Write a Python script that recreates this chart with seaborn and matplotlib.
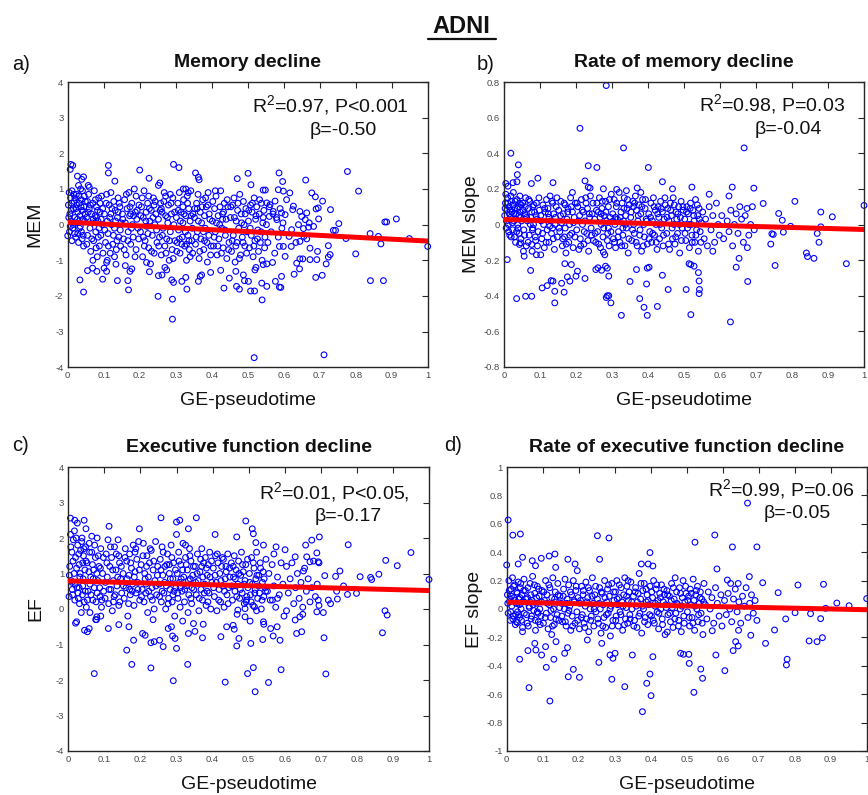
import matplotlib
matplotlib.use("Agg")
import matplotlib.pyplot as plt
import seaborn as sns
from matplotlib.lines import Line2D
from matplotlib.ticker import FixedLocator, FuncFormatter

# ---------------------------------------------------------------- data
x_ticks = [0, 0.1, 0.2, 0.3, 0.4, 0.5, 0.6, 0.7, 0.8, 0.9, 1]
mem_yticks = [-4, -3, -2, -1, 0, 1, 2, 3, 4]
mem_slope_yticks = [-0.8, -0.6, -0.4, -0.2, 0, 0.2, 0.4, 0.6, 0.8]
ef_yticks = [-4, -3, -2, -1, 0, 1, 2, 3, 4]
ef_slope_yticks = [-1, -0.8, -0.6, -0.4, -0.2, 0, 0.2, 0.4, 0.6, 0.8, 1]

panel_letters = ["a)", "b)", "c)", "d)"]
panel_titles = ["Memory decline", "Rate of memory decline",
                "Executive function decline", "Rate of executive function decline"]
y_labels = ["MEM", "MEM slope", "EF", "EF slope"]
x_label = "GE-pseudotime"
stats_r2 = ["R$^{2}$=0.97, P<0.001", "R$^{2}$=0.98, P=0.03",
            "R$^{2}$=0.01, P<0.05,", "R$^{2}$=0.99, P=0.06"]
stats_beta = ["\u03b2=-0.50", "\u03b2=-0.04", "\u03b2=-0.17", "\u03b2=-0.05"]

# fitted regression lines (value at pseudotime 0 and 1)
fit_x = [0, 1]
mem_fit = [0.07, -0.46]
mem_slope_fit = [0.028, -0.028]
ef_fit = [0.79, 0.52]
ef_slope_fit = [0.048, -0.005]

# scatter points (pseudotime, score)
mem_points = [
    (0.009,1.69),(0.014,1.66),(0.007,1.55),(0.0,-0.31),(0.034,-1.55),(0.044,-1.89),(0.055,-1.29),
    (0.027,1.36),(0.044,1.34),(0.039,1.27),(0.057,1.10),(0.113,1.66),(0.113,1.45),(0.131,1.22),
    (0.20,1.53),(0.226,1.30),(0.294,1.69),(0.309,1.60),(0.355,1.45),(0.363,1.33),(0.365,1.26),
    (0.256,1.17),(0.252,1.10),(0.272,0.80),(0.321,1.0),(0.471,1.29),(0.501,1.44),(0.509,1.12),
    (0.543,0.97),(0.549,0.97),(0.587,1.45),(0.597,1.21),(0.661,1.25),(0.777,1.49),(0.808,0.94),
    (0.913,0.16),(0.881,0.075),(0.886,0.075),(0.84,-0.25),(0.863,-0.33),(0.87,-0.54),(0.80,-0.82),
    (0.841,-1.57),(0.877,-1.57),(0.949,-0.39),(1.0,-0.61),(0.753,0.03),(0.738,-0.16),(0.744,-0.16),
    (0.773,-0.39),(0.73,0.42),(0.708,0.66),(0.688,0.78),(0.678,0.89),(0.696,0.47),(0.69,0.44),
    (0.671,0.05),(0.697,0.16),(0.724,-0.59),(0.694,-0.75),(0.729,-0.84),(0.724,-0.91),(0.718,-1.1),
    (0.692,-0.98),(0.673,-0.98),(0.707,-1.42),(0.689,-1.48),(0.712,-3.65),(0.518,-3.73),(0.291,-2.65),
    (0.291,-2.09),(0.251,-2.01),(0.331,-1.81),(0.317,-1.59),(0.328,-1.48),(0.294,-1.62),(0.289,-1.55),
    (0.262,-1.41),(0.275,-1.27),(0.252,-1.43),(0.227,-1.32),(0.219,-1.06),(0.173,-1.31),(0.169,-1.83),
    (0.167,-1.57),(0.138,-1.57),(0.178,-1.24),(0.108,-1.31),(0.101,-1.22),(0.097,-1.53),(0.081,-1.31),
    (0.069,-1.22),(0.134,-1.11),(0.108,-1.06),(0.368,-1.45),(0.372,-1.41),(0.363,-1.59),(0.397,-1.34),
    (0.425,-1.28),(0.434,-1.78),(0.449,-1.50),(0.469,-1.73),(0.477,-1.81),(0.467,-1.31),(0.488,-1.41),
    (0.491,-1.57),(0.502,-1.59),(0.508,-1.86),(0.519,-1.86),(0.523,-1.2),(0.52,-1.27),(0.54,-2.11),
    (0.539,-1.64),(0.553,-1.73),(0.543,-1.12),(0.553,-1.10),(0.569,-1.06),(0.577,-1.59),(0.588,-1.75),
    (0.592,-1.76),(0.594,-1.45),(0.604,-0.89),(0.629,-1.39),(0.636,-1.08),(0.644,-1.24),(0.645,-0.96),
    (0.653,-0.96),(0.621,-0.61),(0.599,-0.61),(0.588,-0.61),(0.615,-0.33),(0.622,-0.14),(0.627,0.52),
    (0.625,0.42),(0.617,0.89),(0.599,0.94),(0.608,0.70),(0.585,0.98),(0.576,0.66),(0.571,0.37),
    (0.562,0.56),(0.553,0.61),(0.560,0.23),(0.581,0.14),(0.594,0.33),(0.604,0.28),(0.645,0.37),
    (0.65,0.23),(0.664,0.33),(0.66,0.14),(0.641,0.0),(0.655,-0.11),(0.669,-0.07),(0.683,-0.05),
    (0.645,-0.47),(0.656,-0.33),(0.664,-0.40),(0.673,-0.66),(0.634,-0.5),
    (0.002,0.55),(0.004,0.9),(0.006,0.3),(0.008,0.75),(0.01,0.1),(0.012,0.95),(0.014,-0.1),(0.016,0.45),
    (0.018,0.65),(0.02,0.2),(0.022,-0.35),(0.024,0.85),(0.026,0.05),(0.028,0.35),(0.03,-0.5),(0.032,0.6),
    (0.034,0.25),(0.036,1.0),(0.038,-0.2),(0.04,0.4),(0.042,0.15),(0.044,-0.6),(0.046,0.8),(0.048,0.3),
    (0.005,-0.2),(0.015,0.0),(0.025,0.55),(0.035,-0.05),(0.045,0.5),(0.01,0.4),(0.02,0.75),(0.03,1.1),
    (0.04,-0.4),(0.012,-0.45),(0.028,-0.25),(0.038,0.7),
    (0.052,0.2),(0.055,-0.3),(0.058,0.85),(0.06,0.45),(0.062,-0.1),(0.064,-0.75),(0.066,0.3),(0.068,0.05),
    (0.07,0.6),(0.072,-0.45),(0.074,0.95),(0.076,0.25),(0.078,-0.2),(0.08,0.5),(0.082,-0.9),(0.084,0.1),
    (0.086,0.75),(0.088,-0.6),(0.09,0.35),(0.092,-0.3),(0.094,0.8),(0.096,0.0),(0.098,-0.8),(0.06,1.05),
    (0.07,-1.0),(0.08,0.2),(0.09,0.6),(0.055,0.65),(0.085,-0.35),
    (0.102,0.3),(0.105,-0.5),(0.108,0.85),(0.11,0.1),(0.112,-0.25),(0.115,0.55),(0.118,-0.8),(0.12,0.3),
    (0.122,0.0),(0.125,-0.55),(0.128,0.65),(0.13,-0.1),(0.132,0.4),(0.135,-0.7),(0.138,0.2),(0.14,0.75),
    (0.142,-0.35),(0.145,0.5),(0.148,0.05),(0.11,-1.0),(0.12,0.9),(0.13,-0.9),(0.14,0.35),(0.146,-0.15),
    (0.152,0.3),(0.155,-0.4),(0.158,0.7),(0.16,0.05),(0.162,-0.85),(0.165,0.45),(0.168,-0.2),(0.17,0.9),
    (0.172,0.25),(0.175,-0.55),(0.178,0.6),(0.18,0.0),(0.182,-0.35),(0.185,1.0),(0.188,0.35),(0.19,-0.7),
    (0.192,0.15),(0.195,-0.1),(0.198,0.55),(0.16,-1.15),(0.175,0.3),(0.19,0.8),
    (0.202,-0.2),(0.205,0.5),(0.208,-0.9),(0.21,0.2),(0.212,0.95),(0.215,-0.45),(0.218,0.35),(0.22,-0.05),
    (0.222,0.6),(0.225,-0.65),(0.228,0.1),(0.23,-1.1),(0.232,0.4),(0.235,-0.3),(0.238,0.75),(0.24,-0.8),
    (0.242,0.0),(0.245,0.3),(0.248,-0.5),(0.21,-0.35),(0.225,0.8),(0.24,0.55),
    (0.252,0.15),(0.255,-0.35),(0.258,0.6),(0.26,-0.85),(0.262,0.35),(0.265,-0.1),(0.268,0.9),(0.27,-0.6),
    (0.272,0.25),(0.275,-0.4),(0.278,0.05),(0.28,0.55),(0.282,-1.0),(0.285,-0.2),(0.288,0.3),(0.29,-0.7),
    (0.292,0.75),(0.295,0.0),(0.298,-0.45),(0.26,0.45),(0.27,-1.2),(0.285,0.85),
    (0.302,0.2),(0.304,-0.5),(0.306,0.6),(0.308,-0.15),(0.31,0.9),(0.312,-0.8),(0.315,0.35),(0.318,-0.35),
    (0.32,0.05),(0.322,0.7),(0.325,-0.6),(0.328,0.25),(0.33,-1.0),(0.332,0.8),(0.334,-0.3),(0.336,0.45),
    (0.338,-0.7),(0.34,0.1),(0.342,0.95),(0.345,-0.45),(0.348,0.3),(0.31,-0.4),(0.32,0.5),(0.33,-0.55),
    (0.335,0.9),(0.34,-0.9),(0.346,-0.1),(0.328,1.0),
    (0.352,0.2),(0.355,-0.55),(0.358,0.6),(0.36,-0.2),(0.362,0.85),(0.365,-0.95),(0.368,0.35),(0.37,-0.4),
    (0.372,0.05),(0.375,0.7),(0.378,-0.7),(0.38,0.25),(0.382,-0.1),(0.385,0.5),(0.388,-1.05),(0.39,0.9),
    (0.392,-0.3),(0.395,0.15),(0.398,-0.6),(0.36,0.45),(0.38,-0.45),(0.39,0.55),
    (0.402,0.1),(0.405,-0.6),(0.408,0.45),(0.41,-0.2),(0.412,0.8),(0.415,-0.85),(0.418,0.25),(0.42,-0.4),
    (0.422,0.0),(0.425,0.95),(0.428,-0.1),(0.43,0.3),(0.432,-0.65),(0.435,0.6),(0.438,-0.3),(0.44,0.15),
    (0.442,-0.95),(0.445,0.5),(0.448,-0.5),(0.41,0.95),(0.43,0.15),
    (0.452,0.2),(0.455,-0.75),(0.458,0.55),(0.46,-0.3),(0.462,0.75),(0.465,-1.05),(0.468,0.1),(0.47,-0.5),
    (0.472,0.4),(0.475,-0.1),(0.478,0.85),(0.48,-0.85),(0.482,0.3),(0.485,-0.35),(0.488,0.65),(0.49,0.0),
    (0.492,-0.6),(0.495,0.45),(0.498,-0.2),
    (0.502,0.1),(0.505,-0.65),(0.508,0.55),(0.51,-0.3),(0.512,0.35),(0.515,-0.9),(0.518,0.75),(0.52,-0.45),
    (0.522,0.15),(0.525,0.5),(0.528,-0.15),(0.53,-0.75),(0.532,0.3),(0.535,-0.5),(0.538,0.6),(0.54,-1.0),
    (0.542,0.05),(0.545,0.4),(0.548,-0.35),
    (0.552,0.0),(0.556,-0.5),(0.56,0.5),(0.565,-0.2),(0.57,0.3),(0.575,-0.8),(0.58,0.2),(0.585,-0.35),
    (0.59,0.45),(0.595,-0.1),(0.598,0.05),
]
mem_points_dense = [
    (0.003,0.2),(0.007,-0.05),(0.011,0.6),(0.017,0.85),(0.019,-0.25),(0.023,0.45),(0.027,0.15),(0.031,0.8),
    (0.033,-0.1),(0.037,0.5),(0.041,0.95),(0.043,-0.3),(0.047,0.1),(0.049,0.65),(0.053,-0.55),(0.057,0.35),
    (0.063,0.55),(0.067,-0.4),(0.071,0.15),(0.077,0.7),(0.079,-0.65),(0.083,0.4),(0.087,-0.1),(0.093,0.15),
    (0.097,0.45),(0.103,-0.15),(0.107,0.6),(0.113,-0.6),(0.117,0.2),(0.123,0.45),(0.127,-0.3),(0.133,0.1),
    (0.137,-0.45),(0.143,0.6),(0.147,-0.6),(0.153,0.15),(0.157,-0.7),(0.163,0.85),(0.167,-0.45),(0.173,0.5),
    (0.177,-0.1),(0.183,0.25),(0.187,-0.9),(0.193,0.4),(0.197,-0.4),(0.203,0.25),(0.207,0.75),(0.213,-0.6),
    (0.217,0.1),(0.223,-0.25),(0.227,0.45),(0.233,-0.75),(0.237,0.2),(0.243,0.65),(0.247,-0.15),(0.253,-0.6),
    (0.257,0.4),(0.263,-0.3),(0.267,0.65),(0.273,-0.8),(0.277,0.2),(0.283,-0.45),(0.287,0.6),(0.293,-0.95),
    (0.297,0.35),(0.303,-0.75),(0.307,0.4),(0.313,0.1),(0.317,-0.55),(0.323,0.3),(0.327,-0.2),(0.333,0.6),
    (0.337,-0.45),(0.343,0.25),(0.347,-0.8),(0.353,0.45),(0.357,-0.35),(0.363,0.1),(0.367,-0.75),(0.373,0.5),
    (0.377,-0.2),(0.383,0.75),(0.387,-0.5),(0.393,0.3),(0.397,-0.85),(0.403,0.65),(0.407,-0.35),(0.413,0.05),
    (0.417,-0.6),(0.423,0.5),(0.427,-0.8),(0.433,0.35),(0.437,-0.15),(0.443,0.7),(0.447,-0.7),(0.453,0.5),
    (0.457,-0.45),(0.463,0.2),(0.467,-0.6),(0.473,0.6),(0.477,-0.95),(0.483,0.05),(0.487,-0.5),(0.493,0.3),
    (0.497,-0.8),(0.503,0.4),(0.507,-0.1),(0.513,0.6),(0.517,-0.6),(0.523,0.25),(0.527,-0.4),(0.533,0.7),
    (0.537,-0.2),(0.543,0.2),(0.547,-0.65),
]

mem_slope_points = [
    (0.284,0.78),(0.211,0.54),(0.019,0.40),(0.332,0.43),(0.667,0.43),(0.040,0.335),(0.037,0.28),
    (0.094,0.26),(0.234,0.33),(0.258,0.32),(0.401,0.32),(0.440,0.24),(0.005,0.23),(0.036,0.24),
    (0.025,0.235),(0.011,0.215),(0.076,0.23),(0.136,0.235),(0.225,0.245),(0.234,0.21),(0.239,0.205),
    (0.276,0.20),(0.313,0.197),(0.37,0.205),(0.468,0.20),(0.522,0.21),(0.634,0.21),(0.625,0.16),
    (0.694,0.204),(0.808,0.13),(1.0,0.107),(0.72,0.118),(0.88,0.07),(0.912,0.043),(0.763,0.062),
    (0.773,0.024),(0.796,-0.01),(0.88,-0.013),(0.87,-0.05),(0.875,-0.1),(0.84,-0.16),(0.843,-0.18),
    (0.861,-0.19),(0.951,-0.22),(0.776,-0.043),(0.744,-0.052),(0.748,-0.056),(0.741,-0.11),
    (0.753,-0.23),(0.676,-0.13),(0.677,-0.32),(0.645,-0.24),(0.653,-0.19),(0.629,-0.547),(0.519,-0.506),
    (0.506,-0.365),(0.514,-0.22),(0.519,-0.225),(0.528,-0.234),(0.54,-0.27),(0.542,-0.317),
    (0.543,-0.365),(0.542,-0.388),(0.456,-0.365),(0.44,-0.285),(0.426,-0.46),(0.398,-0.245),
    (0.403,-0.24),(0.396,-0.334),(0.389,-0.465),(0.398,-0.51),(0.377,-0.416),(0.368,-0.253),
    (0.35,-0.32),(0.326,-0.51),(0.297,-0.44),(0.287,-0.40),(0.291,-0.40),(0.284,-0.41),(0.291,-0.29),
    (0.287,-0.245),(0.282,-0.234),(0.271,-0.257),(0.255,-0.253),(0.261,-0.243),(0.276,-0.155),
    (0.225,-0.303),(0.204,-0.262),(0.2,-0.29),(0.183,-0.318),(0.176,-0.294),(0.169,-0.22),(0.187,-0.225),
    (0.16,-0.33),(0.167,-0.38),(0.141,-0.375),(0.131,-0.315),(0.136,-0.318),(0.12,-0.343),(0.106,-0.356),
    (0.141,-0.44),(0.074,-0.258),(0.077,-0.403),(0.06,-0.403),(0.035,-0.416),(0.009,-0.197),
    (0.054,-0.15),(0.056,-0.178),(0.046,-0.103),(0.043,-0.112),(0.02,-0.07),(0.102,-0.17),(0.077,-0.112),
    (0.002,0.05),(0.004,0.12),(0.006,-0.02),(0.008,0.08),(0.01,0.15),(0.012,0.0),(0.014,0.1),(0.016,-0.06),
    (0.018,0.04),(0.02,0.13),(0.022,0.07),(0.024,-0.03),(0.026,0.18),(0.028,0.02),(0.03,0.09),(0.032,-0.1),
    (0.034,0.06),(0.036,0.14),(0.038,0.0),(0.04,0.1),(0.042,-0.05),(0.044,0.16),(0.046,0.04),(0.048,0.11),
    (0.005,0.17),(0.015,0.06),(0.025,0.11),(0.035,-0.04),(0.045,0.07),
    (0.052,0.12),(0.055,-0.03),(0.058,0.06),(0.06,0.15),(0.062,-0.12),(0.065,0.02),(0.068,0.09),(0.07,-0.06),
    (0.072,0.13),(0.075,0.04),(0.078,-0.15),(0.08,0.1),(0.082,0.0),(0.085,0.07),(0.088,-0.09),(0.09,0.12),
    (0.092,0.03),(0.095,-0.04),(0.098,0.08),(0.06,0.05),(0.08,-0.02),(0.09,-0.17),
    (0.102,0.05),(0.105,-0.08),(0.108,0.11),(0.11,0.0),(0.112,-0.13),(0.115,0.07),(0.118,0.14),(0.12,-0.03),
    (0.122,0.09),(0.125,-0.1),(0.128,0.16),(0.13,0.02),(0.132,-0.05),(0.135,0.12),(0.138,0.06),(0.14,-0.14),
    (0.142,0.0),(0.145,0.1),(0.148,-0.07),(0.125,0.04),(0.135,-0.02),
    (0.152,0.08),(0.155,-0.04),(0.158,0.13),(0.16,0.01),(0.162,-0.12),(0.165,0.06),(0.168,-0.07),(0.17,0.11),
    (0.172,-0.16),(0.175,0.03),(0.178,0.09),(0.18,-0.1),(0.182,0.0),(0.185,0.15),(0.188,-0.05),(0.19,0.07),
    (0.192,-0.13),(0.195,0.04),(0.198,0.12),(0.17,-0.02),(0.19,0.18),
    (0.202,-0.03),(0.205,0.1),(0.208,-0.14),(0.21,0.05),(0.212,-0.08),(0.215,0.14),(0.218,0.0),(0.22,0.07),
    (0.222,-0.11),(0.225,0.02),(0.228,0.12),(0.23,-0.05),(0.232,0.09),(0.235,-0.15),(0.238,0.04),(0.24,0.16),
    (0.242,-0.02),(0.245,0.06),(0.248,-0.09),
    (0.252,0.03),(0.255,-0.1),(0.258,0.12),(0.26,-0.04),(0.262,0.07),(0.265,0.15),(0.268,-0.13),(0.27,0.0),
    (0.272,0.09),(0.275,-0.07),(0.278,0.05),(0.28,-0.17),(0.282,0.13),(0.285,0.02),(0.288,-0.05),(0.29,0.1),
    (0.292,-0.12),(0.295,0.04),(0.298,0.17),(0.27,0.06),(0.29,-0.02),
    (0.302,0.06),(0.304,-0.08),(0.306,0.14),(0.308,0.0),(0.31,-0.13),(0.312,0.1),(0.315,0.03),(0.318,-0.04),
    (0.32,0.18),(0.322,-0.1),(0.325,0.07),(0.328,0.12),(0.33,-0.06),(0.332,0.02),(0.334,0.15),(0.336,-0.12),
    (0.338,0.05),(0.34,-0.02),(0.342,0.09),(0.345,-0.16),(0.348,0.11),(0.31,0.04),(0.33,-0.02),(0.34,0.19),
    (0.352,0.04),(0.355,-0.09),(0.358,0.13),(0.36,0.0),(0.362,-0.05),(0.365,0.16),(0.368,0.08),(0.37,-0.12),
    (0.372,0.02),(0.375,0.11),(0.378,-0.03),(0.38,0.06),(0.382,-0.15),(0.385,0.14),(0.388,0.0),(0.39,-0.07),
    (0.392,0.09),(0.395,0.03),(0.398,-0.11),(0.36,0.1),(0.38,0.18),
    (0.402,0.06),(0.405,-0.04),(0.408,0.12),(0.41,-0.1),(0.412,0.02),(0.415,0.15),(0.418,-0.06),(0.42,0.08),
    (0.422,0.0),(0.425,-0.14),(0.428,0.1),(0.43,0.04),(0.432,-0.08),(0.435,0.13),(0.438,-0.02),(0.44,0.07),
    (0.442,-0.12),(0.445,0.03),(0.448,0.11),
    (0.452,-0.05),(0.455,0.09),(0.458,0.02),(0.46,-0.14),(0.462,0.12),(0.465,0.05),(0.468,-0.08),(0.47,0.15),
    (0.472,0.0),(0.475,-0.11),(0.478,0.07),(0.48,0.03),(0.482,-0.05),(0.485,0.1),(0.488,-0.16),(0.49,0.04),
    (0.492,0.13),(0.495,-0.02),(0.498,0.08),
    (0.502,0.03),(0.505,-0.09),(0.508,0.1),(0.51,-0.02),(0.512,0.06),(0.515,-0.13),(0.518,0.12),(0.52,0.0),
    (0.522,-0.06),(0.525,0.08),(0.528,0.02),(0.53,-0.1),(0.532,0.14),(0.535,-0.03),(0.538,0.05),(0.54,-0.15),
    (0.542,0.09),(0.545,-0.04),(0.548,0.01),
    (0.552,0.07),(0.556,-0.08),(0.56,0.03),(0.565,-0.12),(0.57,0.1),(0.575,-0.03),(0.58,0.05),(0.585,-0.1),
    (0.59,0.12),(0.595,0.0),(0.598,-0.06),(0.57,0.17),(0.58,-0.15),
    (0.605,0.05),(0.61,-0.08),(0.62,0.02),(0.625,-0.04),(0.63,0.08),(0.635,-0.12),(0.64,0.0),(0.645,0.06),
    (0.65,-0.05),(0.655,0.1),(0.66,0.03),(0.665,-0.1),(0.67,0.05),(0.675,0.09),(0.68,-0.06),(0.685,0.0),
    (0.69,0.1),(0.695,-0.03),
]
mem_slope_points_dense = [
    (0.003,0.09),(0.007,0.02),(0.011,0.12),(0.013,-0.04),(0.017,0.08),(0.019,0.16),(0.023,0.01),(0.027,0.06),
    (0.029,-0.07),(0.031,0.13),(0.033,0.03),(0.037,0.09),(0.039,-0.02),(0.041,0.05),(0.043,0.12),(0.047,-0.08),
    (0.049,0.02),(0.053,0.08),(0.057,-0.06),(0.059,0.1),(0.063,0.04),(0.067,-0.1),(0.069,0.14),(0.073,0.0),
    (0.077,0.07),(0.079,-0.03),(0.083,0.11),(0.087,-0.07),(0.089,0.05),(0.093,-0.12),(0.097,0.15),(0.103,0.02),
    (0.107,-0.05),(0.113,0.09),(0.117,-0.1),(0.123,0.06),(0.127,-0.01),(0.133,0.13),(0.137,-0.08),(0.143,0.04),
    (0.147,0.15),(0.153,-0.02),(0.157,0.05),(0.163,-0.08),(0.167,0.12),(0.173,-0.11),(0.177,0.07),(0.183,-0.06),
    (0.187,0.1),(0.193,0.01),(0.197,-0.07),(0.203,0.12),(0.207,0.02),(0.213,-0.12),(0.217,0.08),(0.223,-0.04),
    (0.227,0.15),(0.233,-0.09),(0.237,0.06),(0.243,-0.06),(0.247,0.12),(0.253,-0.05),(0.257,0.08),(0.263,-0.11),
    (0.267,0.04),(0.273,0.13),(0.277,-0.02),(0.283,0.07),(0.287,-0.09),(0.293,0.14),(0.297,-0.04),(0.303,0.02),
    (0.307,-0.1),(0.313,0.12),(0.317,-0.07),(0.323,0.04),(0.327,-0.12),(0.333,0.09),(0.337,0.0),(0.343,0.14),
    (0.347,-0.08),(0.353,0.07),(0.357,-0.03),(0.363,0.12),(0.367,-0.1),(0.373,0.05),(0.377,-0.06),(0.383,0.1),
    (0.387,-0.12),(0.393,0.14),(0.397,0.02),(0.403,-0.08),(0.407,0.04),(0.413,-0.05),(0.417,0.1),(0.423,-0.1),
    (0.427,0.06),(0.433,0.0),(0.437,0.09),(0.443,-0.06),(0.447,0.15),(0.453,0.04),(0.457,-0.11),(0.463,0.08),
    (0.467,-0.02),(0.473,0.11),(0.477,-0.07),(0.483,0.06),(0.487,0.0),(0.493,-0.09),(0.497,0.1),(0.503,-0.05),
    (0.507,0.07),(0.513,0.0),(0.517,0.09),(0.523,-0.1),(0.527,0.05),(0.533,-0.06),(0.537,0.11),(0.543,0.03),
    (0.547,-0.1),
]

ef_points = [
    (0.006,2.56),(0.018,2.5),(0.025,2.42),(0.044,2.5),(0.049,2.26),(0.257,2.57),(0.3,2.45),(0.309,2.5),
    (0.355,2.57),(0.333,2.26),(0.113,2.33),(0.197,2.26),(0.492,2.48),(0.51,2.26),(0.513,2.12),(0.3,2.1),
    (0.407,2.1),(0.467,2.03),(0.52,1.87),(0.541,1.8),(0.576,1.75),(0.601,1.67),(0.658,1.8),(0.675,1.94),
    (0.696,2.03),(0.689,1.58),(0.661,1.47),(0.629,1.47),(0.693,1.33),(0.695,1.3),(0.67,1.33),(0.652,1.07),
    (0.711,0.94),(0.753,1.07),(0.741,0.92),(0.776,1.81),(0.809,0.91),(0.838,0.89),(0.841,0.83),(0.861,0.98),
    (0.88,1.37),(0.912,1.22),(0.95,1.59),(1.0,0.83),(0.763,0.65),(0.799,0.44),(0.774,0.41),(0.744,0.5),
    (0.721,0.25),(0.727,0.15),(0.746,0.28),(0.693,0.25),(0.689,-0.08),(0.707,-0.1),(0.878,-0.05),
    (0.884,-0.17),(0.871,-0.67),(0.709,-0.81),(0.714,-1.83),(0.59,-1.71),(0.555,-2.07),(0.518,-2.33),
    (0.513,-1.65),(0.497,-1.82),(0.435,-2.06),(0.291,-2.02),(0.331,-1.56),(0.229,-1.66),(0.176,-1.56),
    (0.162,-1.16),(0.072,-1.82),(0.181,-0.88),(0.111,-0.55),(0.14,-0.44),(0.168,-0.5),(0.023,-0.36),
    (0.053,-0.64),(0.058,-0.55),(0.079,-0.22),(0.076,-0.3),(0.206,-0.69),(0.213,-0.74),(0.229,-0.95),
    (0.238,-0.92),(0.253,-0.88),(0.263,-1.06),(0.277,-0.55),(0.289,-0.76),(0.296,-0.83),(0.3,-1.11),
    (0.286,-0.5),(0.317,-0.34),(0.333,-0.69),(0.351,-0.63),(0.347,-0.41),(0.372,-0.81),(0.374,-0.43),
    (0.423,-0.78),(0.439,-0.5),(0.457,-0.46),(0.46,-0.57),(0.467,-1.04),(0.473,-0.83),(0.506,-0.97),
    (0.504,-0.34),(0.541,-0.36),(0.542,-0.43),(0.539,-0.86),(0.561,-0.55),(0.579,-0.5),(0.568,-0.76),
    (0.587,-0.88),(0.605,-0.05),(0.629,-0.31),(0.633,-0.69),(0.647,-0.64),(0.65,-0.15),(0.642,-0.22),
    (0.522,-0.05),(0.516,0.06),(0.49,0.01),(0.49,-0.22),(0.47,-0.03),(0.494,0.25),(0.566,0.25),
    (0.002,0.35),(0.004,1.2),(0.006,2.1),(0.008,0.8),(0.01,1.6),(0.012,0.4),(0.014,1.95),(0.016,1.0),
    (0.018,0.25),(0.02,1.45),(0.022,2.0),(0.024,0.6),(0.026,1.8),(0.028,0.3),(0.03,1.25),(0.032,0.9),
    (0.034,1.65),(0.036,-0.1),(0.038,2.0),(0.04,0.65),(0.042,1.5),(0.044,0.2),(0.046,1.1),(0.048,1.75),
    (0.01,0.75),(0.02,-0.4),(0.03,0.6),(0.04,1.3),(0.045,-0.6),(0.05,0.05),
    (0.052,1.3),(0.055,0.5),(0.058,1.85),(0.06,-0.1),(0.062,0.9),(0.065,1.6),(0.068,0.25),(0.07,1.1),
    (0.072,0.6),(0.075,1.45),(0.078,-0.3),(0.08,2.0),(0.082,0.8),(0.085,1.2),(0.088,0.35),(0.09,1.7),
    (0.092,0.05),(0.095,1.0),(0.098,0.5),(0.06,0.7),(0.08,0.45),(0.09,-0.2),(0.065,2.05),
    (0.102,0.3),(0.105,1.55),(0.108,0.9),(0.11,1.95),(0.112,0.15),(0.115,1.2),(0.118,0.55),(0.12,1.45),
    (0.122,-0.05),(0.125,0.8),(0.128,1.75),(0.13,0.4),(0.132,1.1),(0.135,0.65),(0.138,1.95),(0.14,0.1),
    (0.142,1.3),(0.145,0.85),(0.148,0.45),(0.125,0.2),(0.14,1.5),
    (0.152,1.0),(0.155,0.3),(0.158,1.7),(0.16,0.6),(0.162,1.35),(0.165,-0.2),(0.168,0.95),(0.17,1.55),
    (0.172,0.4),(0.175,1.15),(0.178,0.7),(0.18,1.8),(0.182,0.1),(0.185,1.05),(0.188,0.45),(0.19,1.4),
    (0.192,0.75),(0.195,1.9),(0.198,0.25),(0.17,0.55),(0.185,1.6),
    (0.202,1.25),(0.205,0.55),(0.208,1.85),(0.21,0.2),(0.212,1.0),(0.215,0.7),(0.218,1.5),(0.22,-0.1),
    (0.222,0.9),(0.225,1.3),(0.228,0.35),(0.23,1.65),(0.232,0.6),(0.235,1.1),(0.238,0.0),(0.24,0.8),
    (0.242,1.9),(0.245,0.4),(0.248,1.2),(0.215,0.45),(0.235,-0.3),
    (0.252,0.7),(0.255,1.4),(0.258,0.2),(0.26,1.75),(0.262,0.95),(0.265,0.45),(0.268,1.2),(0.27,0.0),
    (0.272,0.65),(0.275,1.55),(0.278,0.3),(0.28,1.0),(0.282,0.55),(0.285,1.8),(0.288,0.2),(0.29,0.85),
    (0.292,1.3),(0.295,-0.2),(0.298,0.6),(0.26,0.5),(0.28,1.25),(0.29,0.4),
    (0.302,1.0),(0.304,0.3),(0.306,1.6),(0.308,0.75),(0.31,0.05),(0.312,1.25),(0.315,0.5),(0.318,1.85),
    (0.32,0.9),(0.322,0.2),(0.325,1.45),(0.328,0.65),(0.33,1.1),(0.332,-0.1),(0.334,0.4),(0.336,1.7),
    (0.338,0.85),(0.34,1.35),(0.342,0.15),(0.345,0.95),(0.348,0.55),(0.31,0.6),(0.325,1.8),(0.34,0.3),
    (0.352,1.2),(0.355,0.4),(0.358,1.55),(0.36,0.8),(0.362,-0.05),(0.365,1.05),(0.368,0.55),(0.37,1.7),
    (0.372,0.25),(0.375,1.3),(0.378,0.7),(0.38,1.45),(0.382,0.1),(0.385,0.95),(0.388,1.25),(0.39,0.45),
    (0.392,1.6),(0.395,0.0),(0.398,0.75),(0.37,1.2),(0.385,0.5),
    (0.402,1.15),(0.405,0.35),(0.408,1.5),(0.41,0.75),(0.412,-0.05),(0.415,1.3),(0.418,0.55),(0.42,1.0),
    (0.422,0.2),(0.425,1.2),(0.428,0.65),(0.43,1.4),(0.432,0.05),(0.435,0.85),(0.438,1.05),(0.44,0.4),
    (0.442,1.55),(0.445,0.6),(0.448,0.9),
    (0.452,1.3),(0.455,0.25),(0.458,0.9),(0.46,1.5),(0.462,0.5),(0.465,1.1),(0.468,-0.15),(0.47,0.7),
    (0.472,1.35),(0.475,0.3),(0.478,0.95),(0.48,1.6),(0.482,0.45),(0.485,1.05),(0.488,0.15),(0.49,0.8),
    (0.492,1.25),(0.495,0.35),(0.498,0.6),
    (0.502,1.0),(0.505,0.4),(0.508,1.45),(0.51,0.7),(0.512,0.1),(0.515,1.15),(0.518,0.55),(0.52,0.85),
    (0.522,1.6),(0.525,0.3),(0.528,0.95),(0.53,0.45),(0.532,1.3),(0.535,0.0),(0.538,0.75),(0.54,1.05),
    (0.542,0.35),(0.545,0.6),(0.548,1.4),
    (0.552,0.5),(0.556,1.0),(0.56,0.25),(0.565,1.25),(0.57,0.65),(0.575,0.05),(0.58,0.9),(0.585,0.4),
    (0.59,1.3),(0.595,0.7),(0.598,-0.2),(0.57,1.55),(0.58,0.3),
    (0.605,1.2),(0.61,0.45),(0.615,0.85),(0.62,1.3),(0.625,0.15),(0.63,0.6),(0.635,1.0),(0.64,0.3),
    (0.645,0.75),(0.65,0.05),(0.655,1.15),(0.66,0.5),(0.665,0.85),(0.67,0.2),(0.675,0.6),(0.68,1.35),
    (0.685,0.35),(0.69,0.7),(0.695,0.1),
]
ef_points_dense = [
    (0.003,0.95),(0.007,1.75),(0.011,0.55),(0.013,1.35),(0.017,2.2),(0.019,0.7),(0.023,1.15),(0.027,0.45),
    (0.029,1.55),(0.031,0.15),(0.033,1.0),(0.037,1.9),(0.039,0.4),(0.041,0.85),(0.043,1.7),(0.047,0.5),
    (0.049,1.35),(0.053,0.25),(0.057,1.05),(0.059,1.6),(0.063,0.4),(0.067,1.25),(0.069,0.85),(0.073,1.8),
    (0.077,0.2),(0.079,1.0),(0.083,1.5),(0.087,0.6),(0.089,1.15),(0.093,0.25),(0.097,1.45),(0.103,0.75),
    (0.107,1.3),(0.113,0.55),(0.117,1.75),(0.123,1.1),(0.127,0.35),(0.133,1.55),(0.137,0.9),(0.143,0.2),
    (0.147,1.2),(0.153,0.65),(0.157,1.45),(0.163,0.85),(0.167,0.15),(0.173,1.3),(0.177,0.5),(0.183,0.9),
    (0.187,1.7),(0.193,0.55),(0.197,1.1),(0.203,0.35),(0.207,1.5),(0.213,0.85),(0.217,1.2),(0.223,0.5),
    (0.227,1.7),(0.233,0.25),(0.237,1.35),(0.243,0.65),(0.247,0.95),(0.253,0.35),(0.257,1.1),(0.263,1.6),
    (0.267,0.75),(0.273,1.25),(0.277,0.15),(0.283,0.85),(0.287,1.45),(0.293,0.5),(0.297,1.1),(0.303,0.45),
    (0.307,1.35),(0.313,0.85),(0.317,1.1),(0.323,0.55),(0.327,1.25),(0.333,0.8),(0.337,1.5),(0.343,0.6),
    (0.347,1.2),(0.353,0.75),(0.357,1.0),(0.363,0.3),(0.367,1.4),(0.373,0.9),(0.377,0.45),(0.383,1.15),
    (0.387,0.2),(0.393,0.9),(0.397,1.35),(0.403,0.6),(0.407,0.95),(0.413,1.55),(0.417,0.25),(0.423,0.8),
    (0.427,1.45),(0.433,0.5),(0.437,1.2),(0.443,0.15),(0.447,1.15),(0.453,0.65),(0.457,1.2),(0.463,0.85),
    (0.467,0.35),(0.473,1.0),(0.477,0.55),(0.483,1.25),(0.487,0.7),(0.493,0.2),(0.497,1.4),(0.503,0.75),
    (0.507,0.2),(0.513,1.3),(0.517,0.45),(0.523,0.95),(0.527,0.65),(0.533,1.15),(0.537,0.25),(0.543,0.85),
    (0.547,0.5),
]

ef_slope_points = [
    (0.004,0.627),(0.0,0.31),(0.017,0.52),(0.038,0.528),(0.032,0.317),(0.044,0.364),(0.071,0.34),
    (0.08,0.305),(0.096,0.357),(0.118,0.373),(0.134,0.387),(0.136,0.293),(0.17,0.35),(0.19,0.317),
    (0.196,0.27),(0.252,0.516),(0.284,0.5),(0.258,0.35),(0.374,0.317),(0.398,0.397),(0.393,0.317),
    (0.406,0.303),(0.578,0.521),(0.523,0.47),(0.627,0.437),(0.695,0.437),(0.669,0.746),(0.584,0.282),
    (0.613,0.204),(0.622,0.18),(0.643,0.18),(0.674,0.228),(0.711,0.185),(0.809,0.169),(0.88,0.174),
    (0.754,0.115),(0.917,0.042),(0.951,0.023),(1.0,0.073),(0.886,0.005),(0.801,-0.026),(0.844,-0.033),
    (0.872,-0.068),(0.775,-0.07),(0.744,-0.148),(0.84,-0.225),(0.862,-0.23),(0.877,-0.202),(0.719,-0.242),
    (0.779,-0.354),(0.777,-0.394),(0.678,-0.185),(0.644,-0.15),(0.636,-0.23),(0.643,-0.26),(0.629,-0.293),
    (0.606,-0.434),(0.581,-0.324),(0.571,-0.153),(0.52,-0.587),(0.544,-0.488),(0.539,-0.423),(0.506,-0.319),
    (0.483,-0.312),(0.491,-0.319),(0.507,-0.383),(0.446,-0.162),(0.406,-0.336),(0.398,-0.458),(0.401,-0.61),
    (0.389,-0.523),(0.377,-0.723),(0.349,-0.324),(0.328,-0.547),(0.301,-0.312),(0.295,-0.347),(0.292,-0.495),
    (0.287,-0.324),(0.256,-0.376),(0.264,-0.242),(0.224,-0.218),(0.202,-0.481),(0.185,-0.425),(0.171,-0.477),
    (0.169,-0.272),(0.161,-0.312),(0.131,-0.354),(0.137,-0.23),(0.11,-0.411),(0.108,-0.265),(0.12,-0.648),
    (0.097,-0.324),(0.081,-0.289),(0.078,-0.242),(0.062,-0.554),(0.059,-0.293),(0.036,-0.354),(0.044,-0.16),
    (0.03,-0.096),
    (0.002,0.1),(0.004,-0.03),(0.006,0.2),(0.008,0.05),(0.01,-0.08),(0.012,0.14),(0.014,0.02),(0.016,0.22),
    (0.018,-0.05),(0.02,0.08),(0.022,0.17),(0.024,-0.11),(0.026,0.04),(0.028,0.12),(0.03,-0.02),(0.032,0.19),
    (0.034,0.07),(0.036,-0.06),(0.038,0.15),(0.04,0.0),(0.042,0.1),(0.044,-0.13),(0.046,0.05),(0.048,0.21),
    (0.01,0.07),(0.025,-0.04),(0.035,0.03),
    (0.052,0.13),(0.055,-0.04),(0.058,0.08),(0.06,-0.12),(0.062,0.02),(0.065,0.18),(0.068,-0.07),(0.07,0.06),
    (0.072,0.23),(0.075,-0.01),(0.078,0.11),(0.08,-0.15),(0.082,0.04),(0.085,0.16),(0.088,-0.09),(0.09,0.09),
    (0.092,0.0),(0.095,-0.05),(0.098,0.13),(0.065,0.05),(0.085,-0.02),
    (0.102,-0.1),(0.105,0.06),(0.108,0.2),(0.11,-0.03),(0.112,0.1),(0.115,-0.14),(0.118,0.03),(0.12,0.15),
    (0.122,-0.06),(0.125,0.08),(0.128,0.22),(0.13,0.0),(0.132,-0.11),(0.135,0.12),(0.138,0.05),(0.14,-0.04),
    (0.142,0.18),(0.145,-0.08),(0.148,0.09),(0.125,-0.18),
    (0.152,0.04),(0.155,-0.09),(0.158,0.14),(0.16,0.0),(0.162,0.21),(0.165,-0.12),(0.168,0.07),(0.17,-0.03),
    (0.172,0.17),(0.175,0.02),(0.178,-0.15),(0.18,0.1),(0.182,-0.05),(0.185,0.2),(0.188,0.05),(0.19,-0.1),
    (0.192,0.13),(0.195,-0.02),(0.198,0.08),
    (0.202,-0.14),(0.205,0.06),(0.208,0.16),(0.21,-0.04),(0.212,0.1),(0.215,-0.1),(0.218,0.02),(0.22,0.19),
    (0.222,-0.07),(0.225,0.08),(0.228,-0.16),(0.23,0.13),(0.232,0.0),(0.235,-0.05),(0.238,0.22),(0.24,0.04),
    (0.242,-0.12),(0.245,0.1),(0.248,-0.02),
    (0.252,0.07),(0.255,-0.1),(0.258,0.15),(0.26,0.0),(0.262,-0.17),(0.265,0.11),(0.268,0.03),(0.27,-0.06),
    (0.272,0.2),(0.275,-0.13),(0.278,0.05),(0.28,0.14),(0.282,-0.03),(0.285,0.09),(0.288,-0.19),(0.29,0.02),
    (0.292,0.18),(0.295,-0.08),(0.298,0.06),
    (0.302,0.12),(0.304,-0.05),(0.306,0.2),(0.308,0.03),(0.31,-0.12),(0.312,0.08),(0.315,-0.02),(0.318,0.15),
    (0.32,0.05),(0.322,-0.15),(0.325,0.1),(0.328,0.22),(0.33,-0.07),(0.332,0.01),(0.334,0.16),(0.336,-0.1),
    (0.338,0.06),(0.34,0.12),(0.342,-0.04),(0.345,0.19),(0.348,0.0),
    (0.352,0.09),(0.355,-0.08),(0.358,0.15),(0.36,0.02),(0.362,-0.13),(0.365,0.11),(0.368,0.25),(0.37,-0.03),
    (0.372,0.07),(0.375,-0.17),(0.378,0.13),(0.38,0.0),(0.382,0.18),(0.385,-0.06),(0.388,0.05),(0.39,0.1),
    (0.392,-0.11),(0.395,0.03),(0.398,0.16),
    (0.402,-0.05),(0.405,0.08),(0.408,0.2),(0.41,-0.1),(0.412,0.02),(0.415,0.14),(0.418,-0.02),(0.42,0.06),
    (0.422,-0.14),(0.425,0.11),(0.428,0.0),(0.43,0.17),(0.432,-0.07),(0.435,0.05),(0.438,0.1),(0.44,-0.18),
    (0.442,0.03),(0.445,0.13),(0.448,-0.04),
    (0.452,0.09),(0.455,-0.09),(0.458,0.18),(0.46,0.01),(0.462,-0.13),(0.465,0.07),(0.468,0.22),(0.47,-0.03),
    (0.472,0.12),(0.475,0.03),(0.478,-0.08),(0.48,0.15),(0.482,0.0),(0.485,-0.16),(0.488,0.08),(0.49,0.2),
    (0.492,-0.05),(0.495,0.05),(0.498,0.11),
    (0.502,-0.02),(0.505,0.09),(0.508,-0.12),(0.51,0.14),(0.512,0.03),(0.515,-0.06),(0.518,0.21),(0.52,0.06),
    (0.522,-0.15),(0.525,0.1),(0.528,0.0),(0.53,0.16),(0.532,-0.09),(0.535,0.04),(0.538,0.12),(0.54,-0.03),
    (0.542,0.07),(0.545,-0.18),(0.548,0.18),
    (0.552,0.03),(0.556,-0.07),(0.56,0.12),(0.565,0.0),(0.57,0.08),(0.575,-0.1),(0.58,0.15),(0.585,0.04),
    (0.59,-0.05),(0.595,0.1),(0.598,-0.12),
    (0.605,0.06),(0.61,-0.04),(0.615,0.11),(0.62,0.0),(0.625,-0.09),(0.63,0.07),(0.635,0.14),(0.64,-0.02),
    (0.645,0.05),(0.65,-0.1),(0.655,0.09),(0.66,0.02),(0.665,0.15),(0.67,-0.06),(0.675,0.04),(0.68,0.1),
    (0.685,-0.03),(0.69,0.06),(0.695,-0.08),
]
ef_slope_points_dense = [
    (0.003,0.04),(0.007,0.13),(0.011,-0.02),(0.013,0.09),(0.017,-0.07),(0.019,0.16),(0.023,0.06),(0.027,-0.09),
    (0.029,0.11),(0.031,0.04),(0.033,-0.04),(0.037,0.08),(0.039,0.18),(0.041,-0.08),(0.043,0.05),(0.047,0.13),
    (0.049,-0.03),(0.053,0.07),(0.057,-0.1),(0.059,0.15),(0.063,0.01),(0.067,0.1),(0.069,-0.05),(0.073,0.03),
    (0.077,0.17),(0.079,-0.08),(0.083,0.08),(0.087,-0.03),(0.089,0.14),(0.093,-0.11),(0.097,0.05),(0.103,0.12),
    (0.107,-0.06),(0.113,0.04),(0.117,0.17),(0.123,-0.01),(0.127,-0.12),(0.133,0.07),(0.137,-0.07),(0.143,0.1),
    (0.147,0.01),(0.153,-0.05),(0.157,0.09),(0.163,-0.09),(0.167,0.04),(0.173,-0.01),(0.177,0.12),(0.183,-0.12),
    (0.187,0.06),(0.193,0.16),(0.197,-0.08),(0.203,0.04),(0.207,-0.06),(0.213,0.13),(0.217,-0.13),(0.223,0.05),
    (0.227,0.15),(0.233,-0.08),(0.237,0.09),(0.243,0.0),(0.247,0.16),(0.253,-0.07),(0.257,0.04),(0.263,0.12),
    (0.267,-0.12),(0.273,0.08),(0.277,-0.04),(0.283,0.17),(0.287,0.0),(0.293,-0.12),(0.297,0.12),(0.303,-0.08),
    (0.307,0.07),(0.313,0.17),(0.317,-0.04),(0.323,0.02),(0.327,-0.11),(0.333,0.09),(0.337,0.2),(0.343,-0.07),
    (0.347,0.05),(0.353,-0.12),(0.357,0.12),(0.363,0.05),(0.367,-0.05),(0.373,0.18),(0.377,0.02),(0.383,-0.09),
    (0.387,0.14),(0.393,0.06),(0.397,-0.04),(0.403,0.12),(0.407,-0.08),(0.413,0.04),(0.417,0.17),(0.423,-0.03),
    (0.427,0.08),(0.433,-0.11),(0.437,0.14),(0.443,0.01),(0.447,0.1),(0.453,-0.03),(0.457,0.06),(0.463,0.15),
    (0.467,-0.07),(0.473,0.04),(0.477,-0.12),(0.483,0.11),(0.487,0.02),(0.493,-0.1),(0.497,0.16),(0.503,0.06),
    (0.507,-0.06),(0.513,0.11),(0.517,-0.1),(0.523,0.02),(0.527,0.13),(0.533,-0.04),(0.537,0.08),(0.543,-0.1),
    (0.547,0.05),
]

# ---------------------------------------------------------------- style
sns.set_theme(style="white")
plt.rcParams['font.family'] = ['Liberation Sans', 'DejaVu Sans']
plt.rcParams['mathtext.fontset'] = 'custom'
plt.rcParams['mathtext.rm'] = 'Liberation Sans'
plt.rcParams['mathtext.it'] = 'Liberation Sans:italic'
plt.rcParams['mathtext.bf'] = 'Liberation Sans:bold'
plt.rcParams['mathtext.default'] = 'regular'

W, H = 868, 795
fig = plt.figure(figsize=(W / 100, H / 100), dpi=100)


def fx(px):
    return px / W


def fy(py):
    return 1 - py / H


# axes boxes in pixels: left, top, right, bottom
boxes = [(67.7, 82.0, 427.7, 367.3), (504.0, 82.0, 864.0, 367.0),
         (68.3, 467.0, 429.0, 751.0), (506.7, 467.0, 866.7, 751.0)]
letter_pos = [(12, 70), (477, 70), (12, 451), (444, 451)]
r2_pos = [(0.948, 0.918), (0.947, 0.921), (0.947, 0.912), (0.965, 0.921)]
beta_pos = [(0.765, 0.830), (0.790, 0.833), (0.776, 0.824), (0.807, 0.838)]

panels = [
    (mem_points + mem_points_dense, mem_fit, mem_yticks),
    (mem_slope_points + mem_slope_points_dense, mem_slope_fit, mem_slope_yticks),
    (ef_points + ef_points_dense, ef_fit, ef_yticks),
    (ef_slope_points + ef_slope_points_dense, ef_slope_fit, ef_slope_yticks),
]


def tick_fmt(v, pos):
    s = f"{v:.1f}".rstrip('0').rstrip('.')
    if s in ('-0', ''):
        s = '0'
    return s


for i, (pts, fit, yt) in enumerate(panels):
    l, t, r, b = boxes[i]
    ax = fig.add_axes([fx(l), fy(b), fx(r - l), (b - t) / H])
    xs = [p[0] for p in pts]
    ys = [p[1] for p in pts]
    sns.scatterplot(x=xs, y=ys, ax=ax, marker='o', s=17, facecolors='none',
                    edgecolor='#0000ff', linewidth=0.8, clip_on=False, legend=False, zorder=2)
    sns.lineplot(x=fit_x, y=fit, ax=ax, color='#ff0000', linewidth=3.6, legend=False, zorder=3)
    ax.set_xlim(0, 1)
    ax.set_ylim(yt[0], yt[-1])
    ax.xaxis.set_major_locator(FixedLocator(x_ticks))
    ax.yaxis.set_major_locator(FixedLocator(yt))
    ax.xaxis.set_major_formatter(FuncFormatter(tick_fmt))
    ax.yaxis.set_major_formatter(FuncFormatter(tick_fmt))
    ax.tick_params(direction='in', length=4, width=0.8, top=True, right=True,
                   labelsize=6.8, labelcolor='#4a4a4a', color='#262626', pad=3)
    for sp in ax.spines.values():
        sp.set_visible(True)
        sp.set_color('#262626')
        sp.set_linewidth(1.0)
    ax.set_xlabel(x_label, fontsize=14, color='#111111')
    ax.xaxis.set_label_coords(0.5, -25.0 / (b - t))
    ax.set_ylabel(y_labels[i], fontsize=14, color='#111111')
    ax.yaxis.set_label_coords(-24.0 / (r - l), 0.5)
    ax.set_title(panel_titles[i], fontsize=14, fontweight='bold', pad=10.5, color='#111111')
    ax.text(r2_pos[i][0], r2_pos[i][1], stats_r2[i], transform=ax.transAxes,
            ha='right', va='center', fontsize=14, color='#111111')
    ax.text(beta_pos[i][0], beta_pos[i][1], stats_beta[i], transform=ax.transAxes,
            ha='center', va='center', fontsize=14, color='#111111')
    lx, ly = letter_pos[i]
    fig.text(fx(lx), fy(ly), panel_letters[i], fontsize=14.5, ha='left', va='baseline',
             color='#111111')

# main title, underlined
fig.text(fx(461), fy(33), "ADNI", fontsize=17, fontweight='bold', ha='center',
         va='baseline', color='#111111')
fig.add_artist(Line2D([fx(428), fx(496)], [fy(38.5), fy(38.5)], color='#111111', linewidth=1.6))

fig.savefig("out.png", dpi=100)
